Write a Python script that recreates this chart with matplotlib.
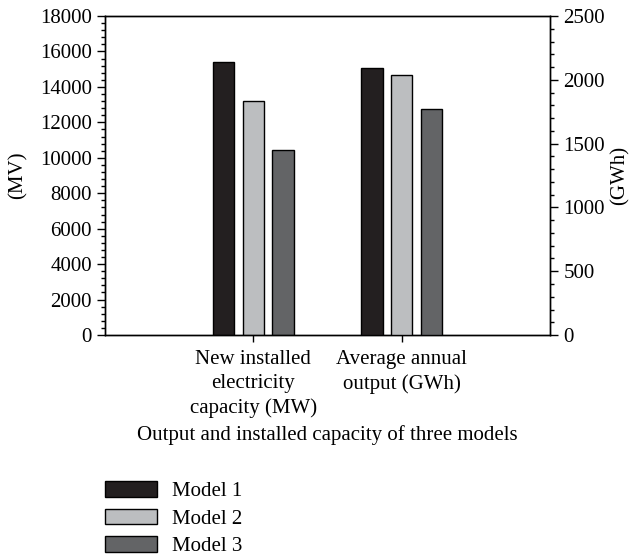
import matplotlib
matplotlib.use("Agg")
import matplotlib.pyplot as plt
from matplotlib.patches import Patch
from matplotlib.ticker import MultipleLocator

plt.rcParams['font.family'] = ['Liberation Serif', 'DejaVu Serif']

categories = ["New installed\nelectricity\ncapacity (MW)", "Average annual\noutput (GWh)"]
models = ["Model 1", "Model 2", "Model 3"]
capacity_mw = [15420, 13220, 10420]   # left axis
output_gwh = [2093, 2041, 1772]       # right axis
colors = ["#231f20", "#bcbec0", "#636466"]

fig = plt.figure(figsize=(6.33, 5.58), dpi=100)
ax = fig.add_axes([0.1659, 0.3996, 0.7030, 0.5717])
ax2 = ax.twinx()

w = 0.142
offs = [-0.2, 0.0, 0.2]
for i in range(3):
    ax.bar(0 + offs[i], capacity_mw[i], w, color=colors[i], edgecolor="black", linewidth=1, zorder=3)
    ax2.bar(1 + offs[i], output_gwh[i], w, color=colors[i], edgecolor="black", linewidth=1, zorder=3)

ax.set_xlim(-1, 2)
ax.set_ylim(0, 18000)
ax2.set_ylim(0, 2500)
ax.yaxis.set_major_locator(MultipleLocator(2000))
ax.yaxis.set_minor_locator(MultipleLocator(400))
ax2.yaxis.set_major_locator(MultipleLocator(500))
ax2.yaxis.set_minor_locator(MultipleLocator(100))

fs = 15
ax.set_xticks([0, 1])
ax.set_xticklabels(categories, fontsize=fs, linespacing=1.36)
ax.tick_params(axis="x", length=5, width=1, pad=6)
ax.tick_params(axis="y", which="major", length=6, width=1, labelsize=fs)
ax.tick_params(axis="y", which="minor", length=3, width=1)
ax2.tick_params(axis="y", which="major", length=6, width=1, labelsize=fs)
ax2.tick_params(axis="y", which="minor", length=3, width=1)

for a in (ax, ax2):
    for s in a.spines.values():
        s.set_linewidth(1)

ax.set_ylabel("(MV)", fontsize=fs, labelpad=9)
ax2.set_ylabel("(GWh)", fontsize=fs, rotation=90, labelpad=4)
ax.set_xlabel("Output and installed capacity of three models", fontsize=fs, labelpad=5)

handles = [Patch(facecolor=colors[i], edgecolor="black", linewidth=1) for i in range(3)]
fig.legend(handles, models, loc="upper left", bbox_to_anchor=(0.150, 0.157),
           frameon=False, fontsize=fs, handlelength=2.5, handleheight=0.8,
           labelspacing=0.36, handletextpad=0.7, borderpad=0)

fig.savefig("out.png", dpi=100)
